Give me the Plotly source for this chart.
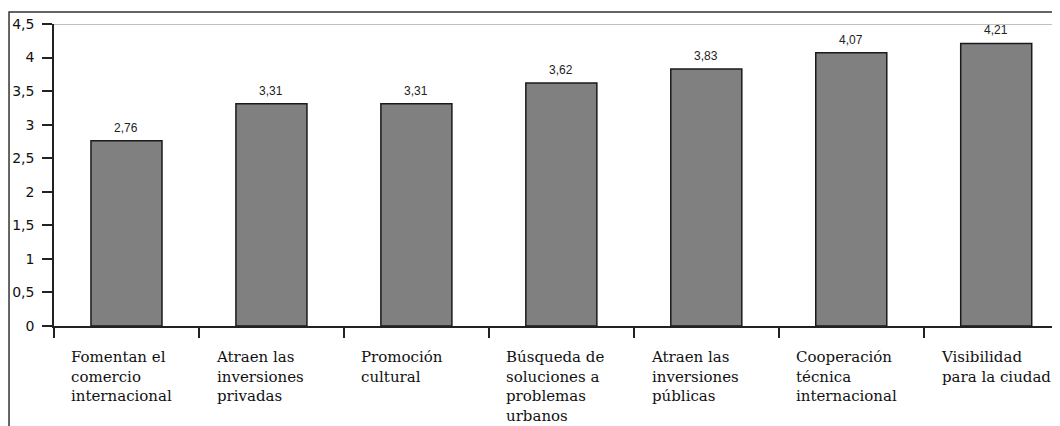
import plotly.graph_objects as go

categories = [
    "Fomentan el<br>comercio<br>internacional",
    "Atraen las<br>inversiones<br>privadas",
    "Promoción<br>cultural",
    "Búsqueda de<br>soluciones a<br>problemas<br>urbanos",
    "Atraen las<br>inversiones<br>públicas",
    "Cooperación<br>técnica<br>internacional",
    "Visibilidad<br>para la ciudad",
]
values = [2.76, 3.31, 3.31, 3.62, 3.83, 4.07, 4.21]
y_ticks = [0, 0.5, 1, 1.5, 2, 2.5, 3, 3.5, 4, 4.5]

x_pos = list(range(len(values)))

fig = go.Figure()
fig.add_trace(go.Bar(
    x=x_pos, y=values, width=0.49,
    marker=dict(color="#808080", line=dict(color="#1a1a1a", width=1.5)),
))

for i, v in enumerate(values):
    fig.add_annotation(
        x=i, y=v, xref="x", yref="y", yanchor="bottom", yshift=4,
        text=f"{v:.2f}".replace(".", ","), showarrow=False,
        font=dict(family="Liberation Sans, Arial", size=12, color="#222"),
    )

for i, lab in enumerate(categories):
    fig.add_annotation(
        x=i - 0.5, xref="x", xanchor="left", xshift=15,
        y=-0.065, yref="paper", yanchor="top",
        text=lab, showarrow=False, align="left",
        font=dict(family="DejaVu Serif", size=15, color="#111"),
    )

# outer frame
fig.add_shape(type="rect", xref="paper", yref="paper",
              x0=-0.0447, x1=1.2, y0=-0.6, y1=1.0397,
              line=dict(color="#333", width=1.5), layer="below")
# top grid line
fig.add_shape(type="line", xref="paper", yref="y", x0=0, x1=1.2, y0=4.5, y1=4.5,
              line=dict(color="#c0c0c0", width=2), layer="below")

fig.update_layout(
    width=1052, height=418,
    margin=dict(l=46, r=0, t=16, b=100),
    paper_bgcolor="white", plot_bgcolor="white",
    showlegend=False,
)
fig.update_xaxes(
    range=[-0.5, 6.44], tickvals=[i + 0.5 for i in range(-1, 7)], ticktext=[""] * 8,
    ticks="outside", ticklen=10, tickcolor="#222", tickwidth=1.5,
    showline=True, linecolor="#222", linewidth=1.5, showgrid=False, zeroline=False,
)
fig.update_yaxes(
    range=[0, 4.5], tickvals=y_ticks,
    ticktext=[f"{v:g}".replace(".", ",") for v in y_ticks],
    ticks="outside", ticklen=10, tickcolor="#222", tickwidth=1.5,
    ticklabelstandoff=5,
    showline=True, linecolor="#222", linewidth=1.5, showgrid=False, zeroline=False,
    tickfont=dict(family="DejaVu Sans", size=14, color="#111"),
)

fig.write_html("out.html")
